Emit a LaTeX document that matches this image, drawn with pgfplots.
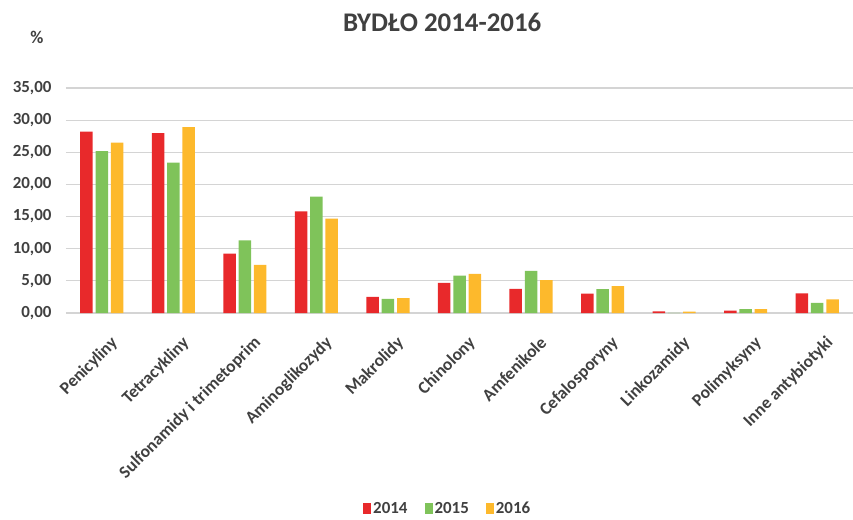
\documentclass[border=0pt]{standalone}
\usepackage{pgfplots}
\pgfplotsset{compat=1.18}
\usepackage{fontspec}
\setmainfont{Carlito}
\definecolor{cred}{HTML}{E8292B}
\definecolor{cgreen}{HTML}{7FC35A}
\definecolor{corange}{HTML}{FDB92C}
\definecolor{ctext}{HTML}{404040}
\definecolor{cgrid}{HTML}{D4D4D4}
\begin{document}
\begin{tikzpicture}
\useasboundingbox (-66bp,-207bp) rectangle (787bp,313bp);
\begin{axis}[
  at={(0,0)}, anchor=south west,
  scale only axis, width=787bp, height=225bp,
  clip mode=individual,
  ybar=2.8bp, bar width=12.5bp,
  xmin=-0.5, xmax=10.5, ymin=0, ymax=35,
  ytick={0,5,...,35},
  xtick={0,...,10},
  xticklabels={Penicyliny,Tetracykliny,Sulfonamidy i trimetoprim,Aminoglikozydy,Makrolidy,Chinolony,Amfenikole,Cefalosporyny,Linkozamidy,Polimyksyny,Inne antybiotyki},
  x tick label style={rotate=45, anchor=north east, font=\fontsize{17.5}{17.5}\selectfont\bfseries, text=ctext, inner sep=1pt, xshift=-9bp, yshift=-20bp},
  y tick label style={font=\fontsize{17}{17}\selectfont\bfseries, text=ctext, xshift=-11bp},
  /pgf/number format/.cd, fixed, fixed zerofill, precision=2, use comma, assume math mode=true,
  /pgfplots/.cd,
  ymajorgrids, grid style={cgrid, line width=1.2bp},
  axis x line*=bottom, axis y line*=left,
  x axis line style={cgrid, line width=1.2bp},
  y axis line style={draw=none},
  major tick length=0pt,
  tick style={draw=none},
  title={BYDŁO 2014-2016},
  title style={at={(axis description cs:0.478,1.265)}, anchor=center, font=\fontsize{27}{27}\selectfont\bfseries, text=ctext},
  legend style={at={(axis description cs:0.485,-0.87)}, anchor=center, draw=none, legend columns=3, font=\fontsize{17}{17}\selectfont\bfseries, text=ctext, /tikz/every even column/.append style={column sep=15bp}},
  legend image code/.code={\fill[#1] (0bp,-5.5bp) rectangle (8bp,6bp);},
]
\addplot[draw=none, fill=cred] coordinates {(0,28.2) (1,28.0) (2,9.25) (3,15.8) (4,2.5) (5,4.7) (6,3.75) (7,3.0) (8,0.26) (9,0.36) (10,3.06)};
\addplot[draw=none, fill=cgreen] coordinates {(0,25.2) (1,23.4) (2,11.3) (3,18.1) (4,2.2) (5,5.8) (6,6.55) (7,3.7) (8,0.03) (9,0.62) (10,1.56)};
\addplot[draw=none, fill=corange] coordinates {(0,26.5) (1,28.9) (2,7.5) (3,14.7) (4,2.3) (5,6.1) (6,5.1) (7,4.2) (8,0.2) (9,0.62) (10,2.13)};
\legend{2014,2015,2016}
\node[font=\fontsize{18}{18}\selectfont\bfseries, text=ctext] at (axis description cs:-0.0368,1.224) {\%};
\end{axis}
\end{tikzpicture}
\end{document}
